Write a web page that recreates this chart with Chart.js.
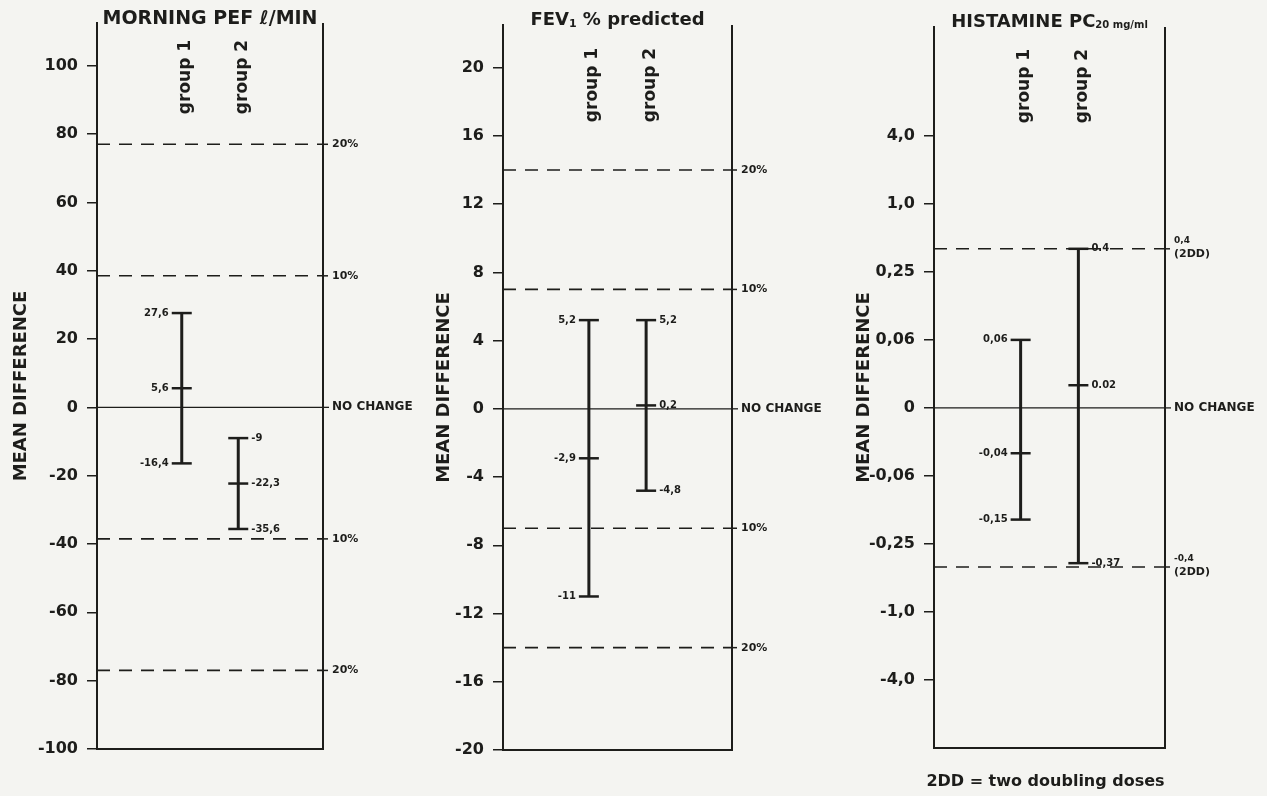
<!DOCTYPE html>
<html lang="en">
<head>
  <meta charset="UTF-8">
  <title>Mean difference - PEF, FEV1, histamine PC20</title>
  <script src="https://cdn.jsdelivr.net/npm/chart.js@4"></script>
  <style>
    body { margin: 0; background: #f4f4f1; }
    canvas { position: absolute; top: 0; }
    #pefChart { left: 0; }
    #fevChart { left: 420px; }
    #histChart { left: 840px; }
  </style>
</head>
<body>
  <canvas id="pefChart" width="420" height="796"></canvas>
  <canvas id="fevChart" width="420" height="796"></canvas>
  <canvas id="histChart" width="427" height="796"></canvas>

  <script>
    const groups = ['group 1', 'group 2'];

    // Morning PEF, l/min
    const pefHigh = [27.6, -9];
    const pefMean = [5.6, -22.3];
    const pefLow = [-16.4, -35.6];
    const pefTicks = [-100, -80, -60, -40, -20, 0, 20, 40, 60, 80, 100];
    const pefRefs = [77, 38.5, -38.5, -77];
    const pefRefLabels = ['20%', '10%', '10%', '20%'];

    // FEV1 % predicted
    const fevHigh = [5.2, 5.2];
    const fevMean = [-2.9, 0.2];
    const fevLow = [-11, -4.8];
    const fevTicks = [-20, -16, -12, -8, -4, 0, 4, 8, 12, 16, 20];
    const fevRefs = [14, 7, -7, -14];
    const fevRefLabels = ['20%', '10%', '10%', '20%'];

    // Histamine PC20 mg/ml (doubling dose axis)
    const histHigh = [0.06, 0.4];
    const histMean = [-0.04, 0.02];
    const histLow = [-0.15, -0.37];
    const histHighText = ['0,06', '0.4'];
    const histMeanText = ['-0,04', '0.02'];
    const histLowText = ['-0,15', '-0,37'];
    const histTicks = [-4, -1, -0.25, -0.06, 0, 0.06, 0.25, 1, 4];
    const histTickLabels = ['-4,0', '-1,0', '-0,25', '-0,06', '0', '0,06', '0,25', '1,0', '4,0'];
    const histRefs = [0.4, -0.4];
    const histRefLabels = [['0,4', '(2DD)'], ['-0,4', '(2DD)']];

    const INK = '#1d1d1b';
    const FONT = '"DejaVu Sans", "Liberation Sans", sans-serif';
    const X_MIN = -1.5, X_MAX = 2.5;

    Chart.defaults.font.family = FONT;
    Chart.defaults.color = INK;

    const fmt = v => String(v).replace('.', ',');
    const linear = v => v;

    // position on the histamine axis: linear up to 0.06, then log between the labelled ticks
    function doublingPos(v) {
      const steps = histTicks.filter(t => t > 0);
      const a = Math.abs(v), s = Math.sign(v);
      if (a <= steps[0]) return v / steps[0];
      let i = 1;
      while (i < steps.length - 1 && a > steps[i]) i++;
      return s * (i + Math.log(a / steps[i - 1]) / Math.log(steps[i] / steps[i - 1]));
    }

    function font(size) { return 'bold ' + size + 'px ' + FONT; }

    function makePanel(canvasId, p) {
      const map = p.map || linear;
      const datasets = [];

      // dashed percentage lines
      p.refs.forEach(r => datasets.push({
        data: [{ x: X_MIN, y: map(r) }, { x: X_MAX, y: map(r) }],
        borderColor: INK, borderWidth: 1.6, borderDash: [13, 9], pointRadius: 0
      }));
      // no change line
      datasets.push({
        data: [{ x: X_MIN, y: 0 }, { x: X_MAX, y: 0 }],
        borderColor: INK, borderWidth: 1.3, pointRadius: 0
      });
      // range bars with caps at low, mean, high
      groups.forEach((g, i) => {
        datasets.push({
          data: [{ x: i, y: map(p.low[i]) }, { x: i, y: map(p.high[i]) }],
          borderColor: INK, borderWidth: 3, pointRadius: 0
        });
        datasets.push({
          showLine: false,
          data: [p.low, p.mean, p.high].map(s => ({ x: i, y: map(s[i]) })),
          pointStyle: 'line', pointRadius: 10,
          pointBorderColor: INK, pointBorderWidth: 2.5, borderColor: INK
        });
      });

      const notes = {
        id: 'notes',
        afterDraw(chart) {
          const { ctx, chartArea: a, scales: { x, y } } = chart;
          ctx.save();
          ctx.strokeStyle = INK;
          ctx.fillStyle = INK;

          // right frame line
          ctx.lineWidth = 2;
          ctx.beginPath();
          ctx.moveTo(a.right, a.top);
          ctx.lineTo(a.right, a.bottom);
          ctx.stroke();

          // percentage labels
          ctx.lineWidth = 1.5;
          ctx.textBaseline = 'middle';
          ctx.textAlign = 'left';
          p.refs.forEach((r, k) => {
            const py = y.getPixelForValue(map(r));
            ctx.beginPath();
            ctx.moveTo(a.right, py);
            ctx.lineTo(a.right + 5, py);
            ctx.stroke();
            const lab = p.refLabels[k];
            if (Array.isArray(lab)) {
              ctx.font = font(9);
              ctx.fillText(lab[0], a.right + 9, py - 8);
              ctx.font = font(11);
              ctx.fillText(lab[1], a.right + 9, py + 5);
            } else {
              ctx.font = font(11);
              ctx.fillText(lab, a.right + 9, py);
            }
          });

          // no change
          const y0 = y.getPixelForValue(0);
          ctx.lineWidth = 1.3;
          ctx.beginPath();
          ctx.moveTo(a.right, y0);
          ctx.lineTo(a.right + 6, y0);
          ctx.stroke();
          ctx.font = font(12);
          ctx.fillText('NO CHANGE', a.right + 9, y0);

          // value labels next to the caps
          ctx.font = font(10);
          groups.forEach((g, i) => {
            const px = x.getPixelForValue(i);
            ctx.textAlign = i === 0 ? 'right' : 'left';
            const tx = i === 0 ? px - 13 : px + 13;
            [[p.high, p.highText], [p.mean, p.meanText], [p.low, p.lowText]].forEach(([vals, txt]) => {
              ctx.fillText(txt[i], tx, y.getPixelForValue(map(vals[i])));
            });
          });

          // group labels, rotated
          ctx.font = font(17);
          ctx.textAlign = 'center';
          groups.forEach((g, i) => {
            ctx.save();
            ctx.translate(x.getPixelForValue(i) + 4, p.groupY);
            ctx.rotate(-Math.PI / 2);
            ctx.fillText(g, 0, 0);
            ctx.restore();
          });

          // panel title with small subscript parts
          ctx.textBaseline = 'alphabetic';
          ctx.textAlign = 'left';
          let total = 0;
          p.title.forEach(part => { ctx.font = font(part.size); total += ctx.measureText(part.text).width; });
          let tx = (a.left + a.right) / 2 - total / 2;
          p.title.forEach(part => {
            ctx.font = font(part.size);
            ctx.fillText(part.text, tx, p.titleY + (part.dy || 0));
            tx += ctx.measureText(part.text).width;
          });

          if (p.footnote) {
            ctx.font = font(16);
            ctx.textAlign = 'center';
            ctx.fillText(p.footnote, (a.left + a.right) / 2 - 4, 786);
          }
          ctx.restore();
        }
      };

      return new Chart(document.getElementById(canvasId), {
        type: 'line',
        data: { datasets },
        options: {
          responsive: false,
          animation: false,
          events: [],
          layout: { padding: p.padding },
          plugins: { legend: { display: false }, tooltip: { enabled: false } },
          scales: {
            x: {
              type: 'linear', min: X_MIN, max: X_MAX,
              ticks: { display: false },
              grid: { display: true, drawOnChartArea: false, drawTicks: false },
              border: { display: true, color: INK, width: 2 },
              afterFit: s => { s.height = 0; }
            },
            y: {
              type: 'linear', min: p.min, max: p.max,
              afterBuildTicks: s => { s.ticks = p.ticks.map(v => ({ value: map(v) })); },
              ticks: {
                autoSkip: false, padding: 9, color: INK,
                font: { size: 16, weight: 'bold' },
                callback: (v, i) => p.tickText[i]
              },
              grid: { display: true, drawOnChartArea: false, tickLength: 10, color: INK, lineWidth: 1.5 },
              border: { display: true, color: INK, width: 2 },
              title: {
                display: true, text: 'MEAN DIFFERENCE', color: INK,
                font: { size: 18, weight: 'bold' },
                padding: { top: p.titlePad, bottom: 0 }
              },
              afterFit: s => { s.width = p.axisWidth; }
            }
          }
        },
        plugins: [notes]
      });
    }

    makePanel('pefChart', {
      high: pefHigh, mean: pefMean, low: pefLow,
      highText: pefHigh.map(fmt), meanText: pefMean.map(fmt), lowText: pefLow.map(fmt),
      ticks: pefTicks, tickText: pefTicks.map(String),
      refs: pefRefs, refLabels: pefRefLabels,
      min: -100, max: 112.5,
      axisWidth: 97, titlePad: 11,
      padding: { left: 0, top: 23, right: 97, bottom: 47 },
      groupY: 77, titleY: 24,
      title: [{ text: 'MORNING PEF \u2113/MIN', size: 19 }]
    });

    makePanel('fevChart', {
      high: fevHigh, mean: fevMean, low: fevLow,
      highText: fevHigh.map(fmt), meanText: fevMean.map(fmt), lowText: fevLow.map(fmt),
      ticks: fevTicks, tickText: fevTicks.map(String),
      refs: fevRefs, refLabels: fevRefLabels,
      min: -20, max: 22.5,
      axisWidth: 83, titlePad: 14,
      padding: { left: 0, top: 25, right: 108, bottom: 46 },
      groupY: 85, titleY: 25,
      title: [{ text: 'FEV', size: 18 }, { text: '1', size: 11, dy: 2 }, { text: ' % predicted', size: 18 }]
    });

    makePanel('histChart', {
      map: doublingPos,
      high: histHigh, mean: histMean, low: histLow,
      highText: histHighText, meanText: histMeanText, lowText: histLowText,
      ticks: histTicks, tickText: histTickLabels,
      refs: histRefs, refLabels: histRefLabels,
      min: -5, max: 5.6,
      axisWidth: 94, titlePad: 14,
      padding: { left: 0, top: 27, right: 102, bottom: 48 },
      groupY: 86, titleY: 27,
      title: [{ text: 'HISTAMINE PC', size: 18 }, { text: '20 mg/ml', size: 10, dy: 1 }],
      footnote: '2DD = two doubling doses'
    });
  </script>
</body>
</html>
